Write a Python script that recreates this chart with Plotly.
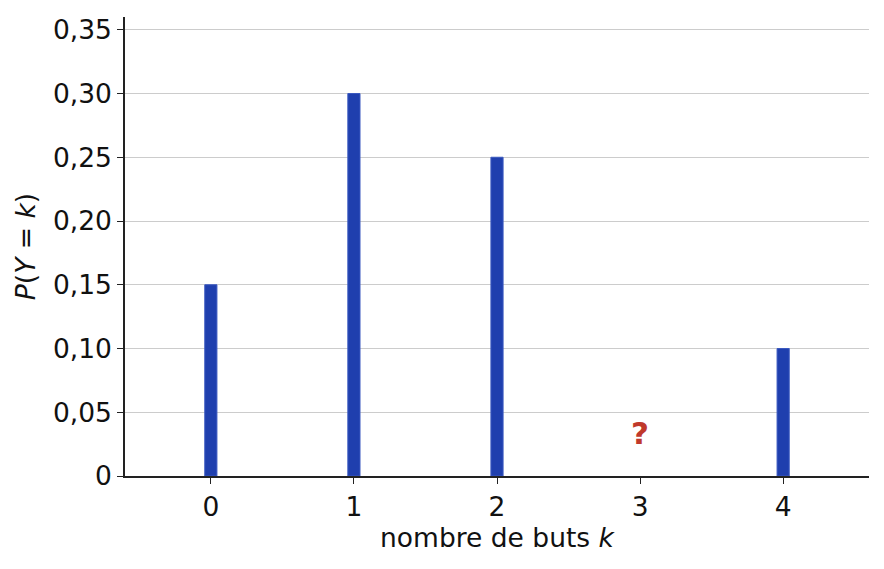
import plotly.graph_objects as go

k = [0, 1, 2, 4]
p = [0.15, 0.30, 0.25, 0.10]
missing_k = 3
y_ticks = [0, 0.05, 0.10, 0.15, 0.20, 0.25, 0.30, 0.35]
y_labels = ["0", "0,05", "0,10", "0,15", "0,20", "0,25", "0,30", "0,35"]

fig = go.Figure()
fig.add_trace(go.Bar(x=k, y=p, width=0.085,
                     marker=dict(color="#1f3fae", line=dict(color="#3b59c0", width=1))))

fig.add_annotation(x=missing_k, y=0.0335, text="<b>?</b>", showarrow=False,
                   font=dict(size=31, color="#c0392b", family="DejaVu Sans"))

fig.update_layout(
    width=884, height=569,
    margin=dict(l=117, r=23, t=6, b=101),
    plot_bgcolor="white", paper_bgcolor="white",
    font=dict(family="DejaVu Sans", size=26.5, color="#111111"),
    showlegend=False,
    xaxis=dict(range=[-0.6, 4.6], tickvals=[0, 1, 2, 3, 4],
               showline=True, linecolor="#222222", linewidth=1.5,
               ticks="outside", ticklen=6, tickcolor="#222222",
               showgrid=False, zeroline=False,
               title=dict(text="nombre de buts <i>k</i>", font=dict(size=26.5), standoff=6)),
    yaxis=dict(range=[0, 0.36], tickvals=y_ticks, ticktext=y_labels,
               showline=True, linecolor="#222222", linewidth=1.5,
               ticks="outside", ticklen=6, tickcolor="#222222",
               showgrid=True, gridcolor="#cccccc", gridwidth=1.3, zeroline=False,
               title=dict(text="<i>P</i>(<i>Y</i> = <i>k</i>)", font=dict(size=26.5), standoff=10)),
)

fig.write_html("out.html")
